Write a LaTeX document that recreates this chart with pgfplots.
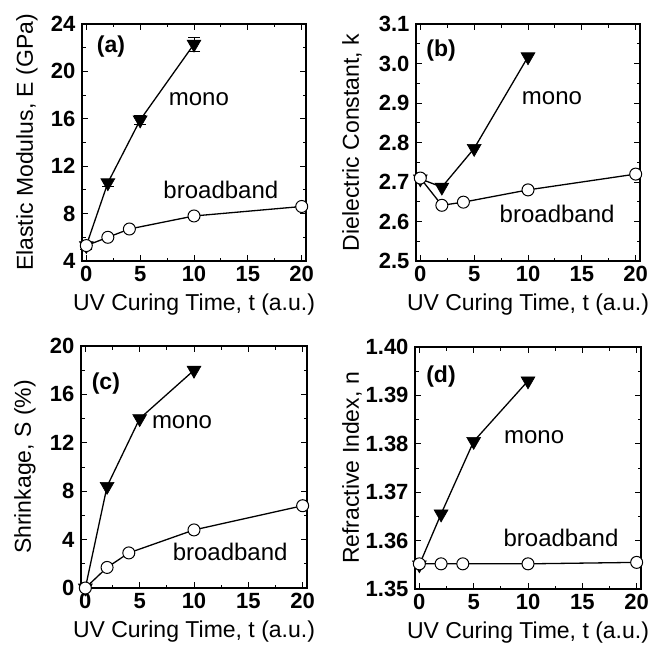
\documentclass[border=0pt]{standalone}
\usepackage{fontspec}
\setmainfont{Liberation Sans}
\usepackage{pgfplots}
\pgfplotsset{compat=1.18}
\pgfplotsset{
  panel/.style={
    scale only axis, anchor=south west,
    xmin=-0.4, xmax=20.4, xtick={0,5,10,15,20},
    minor x tick num=1, minor y tick num=1,
    tick align=inside,
    axis line style={line width=1.1pt},
    major tick length=6pt, minor tick length=3.5pt,
    every tick/.style={line width=1pt, black},
    tick label style={font=\bfseries\fontsize{22}{22}\selectfont},
    yticklabel style={xshift=-3pt},
    xticklabel style={yshift=-2pt},
    label style={font=\fontsize{23}{23}\selectfont},
    xlabel style={at={(rel axis cs:0.5,0)}, anchor=center, yshift=-44pt},
    /pgf/number format/assume math mode=true,
    xlabel={UV Curing Time, t (a.u.)},
    clip=false,
  },
  mono/.style={black, line width=1.3pt, mark=triangle*, mark size=8pt,
    mark options={rotate=180, fill=black, line width=0.6pt}},
  broad/.style={black, line width=1.3pt, mark=*, mark size=6pt,
    mark options={fill=white, line width=1pt}},
}
\tikzset{
  txt/.style={font=\fontsize{24}{24}\selectfont},
  lab/.style={font=\bfseries\fontsize{23}{23}\selectfont},
}
\begin{document}
\begin{tikzpicture}[x=1pt,y=1pt]
\useasboundingbox (0,-644) rectangle (668,0);

% (a)
\begin{axis}[panel, at={(82pt,-261pt)}, width=224pt, height=237pt,
  ymin=4, ymax=24, ytick={4,8,12,16,20,24},
  ylabel style={at={(rel axis cs:-0.246,0.5)}, anchor=center},
  ylabel={Elastic Modulus, E (GPa)}]
\addplot[mono, error bars/.cd, y dir=both, y explicit,
  error bar style={line width=1pt}, error mark options={rotate=90, mark size=6pt, line width=1pt}]
  table[x=t, y=v, y error=e] {
t v e
0 5.3 0.3
2 10.6 0.3
5 15.9 0.4
10 22.3 0.6
};
\addplot[broad, error bars/.cd, y dir=both, y explicit,
  error bar style={line width=1pt}, error mark options={rotate=90, mark size=5pt, line width=1pt}]
  table[x=t, y=v, y error=e] {
t v e
0 5.3 0.3
2 6.0 0.2
4 6.7 0.2
10 7.8 0.2
20 8.6 0.2
};
\node[lab] at (rel axis cs:0.129,0.903) {(a)};
\node[txt] at (rel axis cs:0.522,0.684) {mono};
\node[txt] at (rel axis cs:0.62,0.30) {broadband};
\end{axis}

% (b)
\begin{axis}[panel, at={(416pt,-261pt)}, width=224pt, height=237pt,
  ymin=2.5, ymax=3.1, ytick={2.5,2.6,2.7,2.8,2.9,3.0,3.1},
  yticklabel style={/pgf/number format/.cd, fixed, fixed zerofill, precision=1},
  ylabel style={at={(rel axis cs:-0.286,0.5)}, anchor=center},
  ylabel={Dielectric Constant, k}]
\addplot[mono] coordinates {(0,2.708) (2,2.687) (5,2.785) (10,3.017)};
\addplot[broad] coordinates {(0,2.71) (2,2.641) (4,2.649) (10,2.68) (20,2.72)};
\node[lab] at (rel axis cs:0.112,0.89) {(b)};
\node[txt] at (rel axis cs:0.607,0.688) {mono};
\node[txt] at (rel axis cs:0.63,0.20) {broadband};
\end{axis}

% (c)
\begin{axis}[panel, at={(81pt,-588pt)}, width=226pt, height=242pt,
  ymin=0, ymax=20, ytick={0,4,8,12,16,20},
  ylabel style={at={(rel axis cs:-0.248,0.5)}, anchor=center},
  ylabel={Shrinkage, S (\%)}]
\addplot[mono] coordinates {(0,0) (2,8.4) (5,14.0) (10,18.0)};
\addplot[broad] coordinates {(0,0) (2,1.7) (4,2.9) (10,4.8) (20,6.8)};
\node[lab] at (rel axis cs:0.11,0.843) {(c)};
\node[txt] at (rel axis cs:0.447,0.686) {mono};
\node[txt] at (rel axis cs:0.66,0.149) {broadband};
\end{axis}

% (d)
\begin{axis}[panel, at={(415pt,-589pt)}, width=226pt, height=242pt,
  ymin=1.35, ymax=1.40, ytick={1.35,1.36,1.37,1.38,1.39,1.40},
  yticklabel style={/pgf/number format/.cd, fixed, fixed zerofill, precision=2},
  ylabel style={at={(rel axis cs:-0.279,0.5)}, anchor=center},
  ylabel={Refractive Index, n}]
\addplot[mono] coordinates {(0,1.355) (2,1.3655) (5,1.3805) (10,1.393)};
\addplot[broad] coordinates {(0,1.3552) (2,1.3552) (4,1.3552) (10,1.3552) (20,1.3555)};
\node[lab] at (rel axis cs:0.115,0.876) {(d)};
\node[txt] at (rel axis cs:0.527,0.628) {mono};
\node[txt] at (rel axis cs:0.646,0.21) {broadband};
\end{axis}
\end{tikzpicture}
\end{document}
